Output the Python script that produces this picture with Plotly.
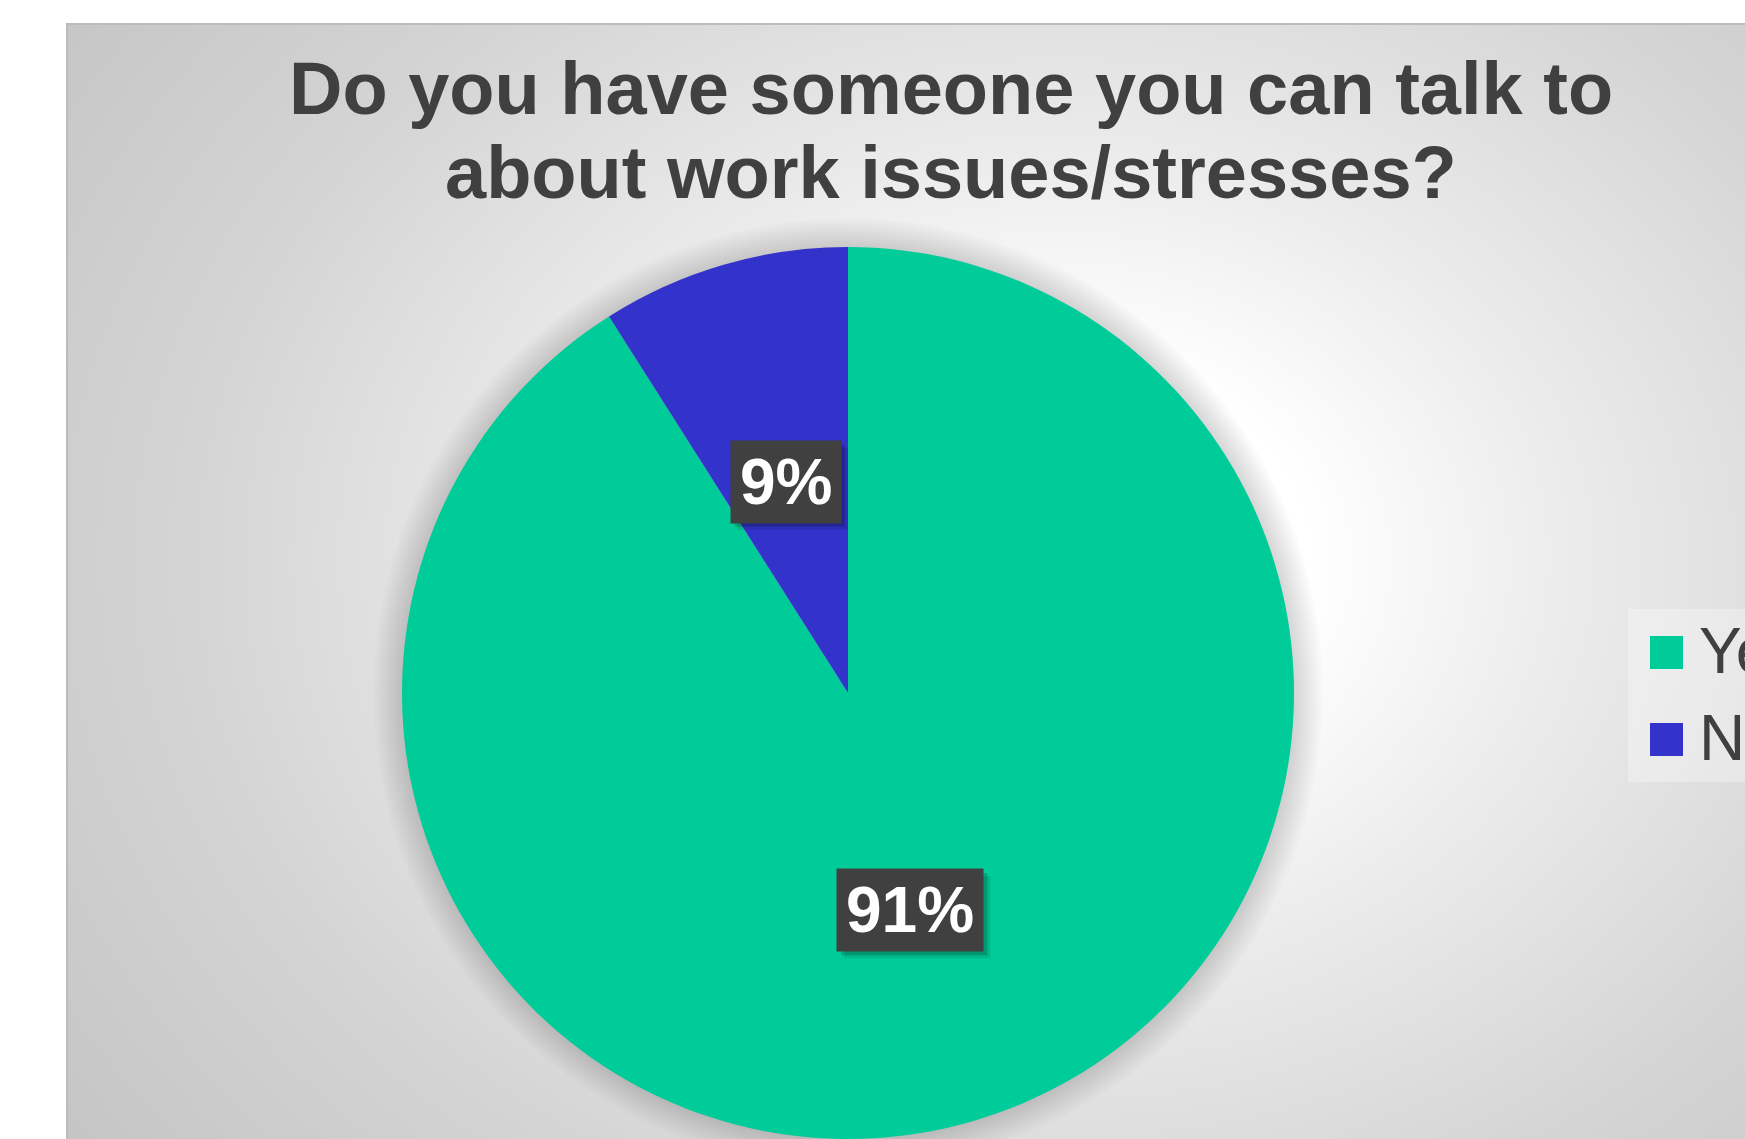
import numpy as np
import plotly.graph_objects as go

# ---------------- data ----------------
categories = ["Yes", "No"]
values = [91, 9]
slice_colors = ["#00CC99", "#3333CC"]
title_lines = ["Do you have someone you can talk to", "about work issues/stresses?"]

# ---------------- geometry / style ----------------
W, H = 1745, 1139
FONT = "Liberation Sans, Arial, sans-serif"
TXT = "#404040"
LABEL_SIZE = 64

pie_cx, pie_r = 848, 446
pie_cy = H - pie_r
dom_x = [(pie_cx - pie_r) / W, (pie_cx + pie_r) / W]
dom_y = [0, 2 * pie_r / H]

fig = go.Figure()

# chart-area radial gradient background
gcx, gcy, ga, gb = 1060, 560, 1250, 1000
fig.add_trace(go.Scatter(
    x=[gcx - ga, gcx + ga, gcx + ga, gcx - ga, gcx - ga],
    y=[gcy - gb, gcy - gb, gcy + gb, gcy + gb, gcy - gb],
    fill="toself", mode="none",
    fillgradient=dict(type="radial", colorscale=[
        [0, "#ffffff"], [0.2, "#ffffff"], [0.4, "#ececec"], [0.7, "#d4d4d4"], [1, "#c4c4c4"]]),
    hoverinfo="skip", showlegend=False))

# soft shadow around the pie
t = np.linspace(0, 2 * np.pi, 721)
sr = pie_r + 30
fig.add_trace(go.Scatter(
    x=pie_cx + sr * np.cos(t), y=pie_cy + sr * np.sin(t),
    fill="toself", mode="none",
    fillgradient=dict(type="radial", colorscale=[
        [0, "rgba(0,0,0,0.2)"], [pie_r / sr, "rgba(0,0,0,0.16)"], [1, "rgba(0,0,0,0)"]]),
    hoverinfo="skip", showlegend=False))

# pie
fig.add_trace(go.Pie(
    labels=categories, values=values,
    marker=dict(colors=slice_colors, line=dict(width=0)),
    sort=False, direction="clockwise", rotation=0,
    textinfo="none", hoverinfo="label+percent",
    domain=dict(x=dom_x, y=dom_y), showlegend=False))

# ---------------- data labels (mid-angle, half radius) ----------------
fr = np.array(values, dtype=float) / sum(values)
mid = np.cumsum(fr) - fr / 2
theta = 2 * np.pi * mid
lx = pie_cx + 0.5 * pie_r * np.sin(theta)
ly = pie_cy - 0.5 * pie_r * np.cos(theta) + 3

annotations = []
shapes = []
box_h = 82
for i in range(len(values)):
    txt = f"{round(fr[i] * 100)}%"
    ndig = len(txt) - 1
    text_w = LABEL_SIZE * (0.556 * ndig + 0.889)
    box_w = text_w + 18
    # soft drop shadow below-right of the label box
    for off, a in [(7, 0.10), (4, 0.18)]:
        shapes.append(dict(type="rect", xref="x", yref="y",
                           x0=lx[i] - box_w / 2 + off, x1=lx[i] + box_w / 2 + off,
                           y0=ly[i] - box_h / 2 + off, y1=ly[i] + box_h / 2 + off,
                           fillcolor=f"rgba(0,0,0,{a})", line=dict(width=0), layer="above"))
    annotations.append(dict(x=lx[i], y=ly[i], xref="x", yref="y", text=f"<b>{txt}</b>",
                            showarrow=False, width=box_w - 20, height=box_h - 20, borderpad=10,
                            xanchor="center", yanchor="middle", bgcolor="#404040",
                            font=dict(family=FONT, size=LABEL_SIZE, color="white")))

# title
for line, yy in zip(title_lines, [88.5, 172.5]):
    annotations.append(dict(x=951, y=yy, xref="x", yref="y", text=f"<b>{line}</b>",
                            showarrow=False, xanchor="center", yanchor="middle",
                            font=dict(family=FONT, size=74, color=TXT)))

# legend (manual, cut off by the page edge like the reference)
leg_y = [652.5, 739.5]
shapes.append(dict(type="rect", xref="x", yref="y", x0=1628, x1=1800, y0=609, y1=782,
                   fillcolor="rgba(255,255,255,0.3)", line=dict(width=0), layer="above"))
for cat, col, yy in zip(categories, slice_colors, leg_y):
    shapes.append(dict(type="rect", xref="x", yref="y", x0=1650, x1=1683,
                       y0=yy - 16.5, y1=yy + 16.5, fillcolor=col, line=dict(width=0),
                       layer="above"))
    annotations.append(dict(x=1697, y=yy - 2, xref="x", yref="y", text=cat, showarrow=False,
                            xanchor="left", yanchor="middle",
                            font=dict(family=FONT, size=64, color=TXT)))

# white page outside the chart area + chart area border
shapes.append(dict(type="rect", xref="x", yref="y", x0=-20, x1=67, y0=-20, y1=H + 20,
                   fillcolor="white", line=dict(width=0), layer="above"))
shapes.append(dict(type="rect", xref="x", yref="y", x0=-20, x1=W + 20, y0=-20, y1=23,
                   fillcolor="white", line=dict(width=0), layer="above"))
shapes.append(dict(type="line", xref="x", yref="y", x0=67, x1=67, y0=23, y1=H + 20,
                   line=dict(color="#bcbcbc", width=2), layer="above"))
shapes.append(dict(type="line", xref="x", yref="y", x0=67, x1=W + 20, y0=24, y1=24,
                   line=dict(color="#bcbcbc", width=2), layer="above"))

fig.update_layout(
    width=W, height=H,
    margin=dict(l=0, r=0, t=0, b=0, pad=0),
    paper_bgcolor="white", plot_bgcolor="rgba(0,0,0,0)",
    xaxis=dict(range=[0, W], visible=False, fixedrange=True),
    yaxis=dict(range=[H, 0], visible=False, fixedrange=True),
    showlegend=False,
    annotations=annotations, shapes=shapes,
    font=dict(family=FONT, color=TXT),
)

fig.write_html("out.html", config={"displayModeBar": False},
               post_script="document.body.style.margin='0';document.body.style.overflow='hidden';")
